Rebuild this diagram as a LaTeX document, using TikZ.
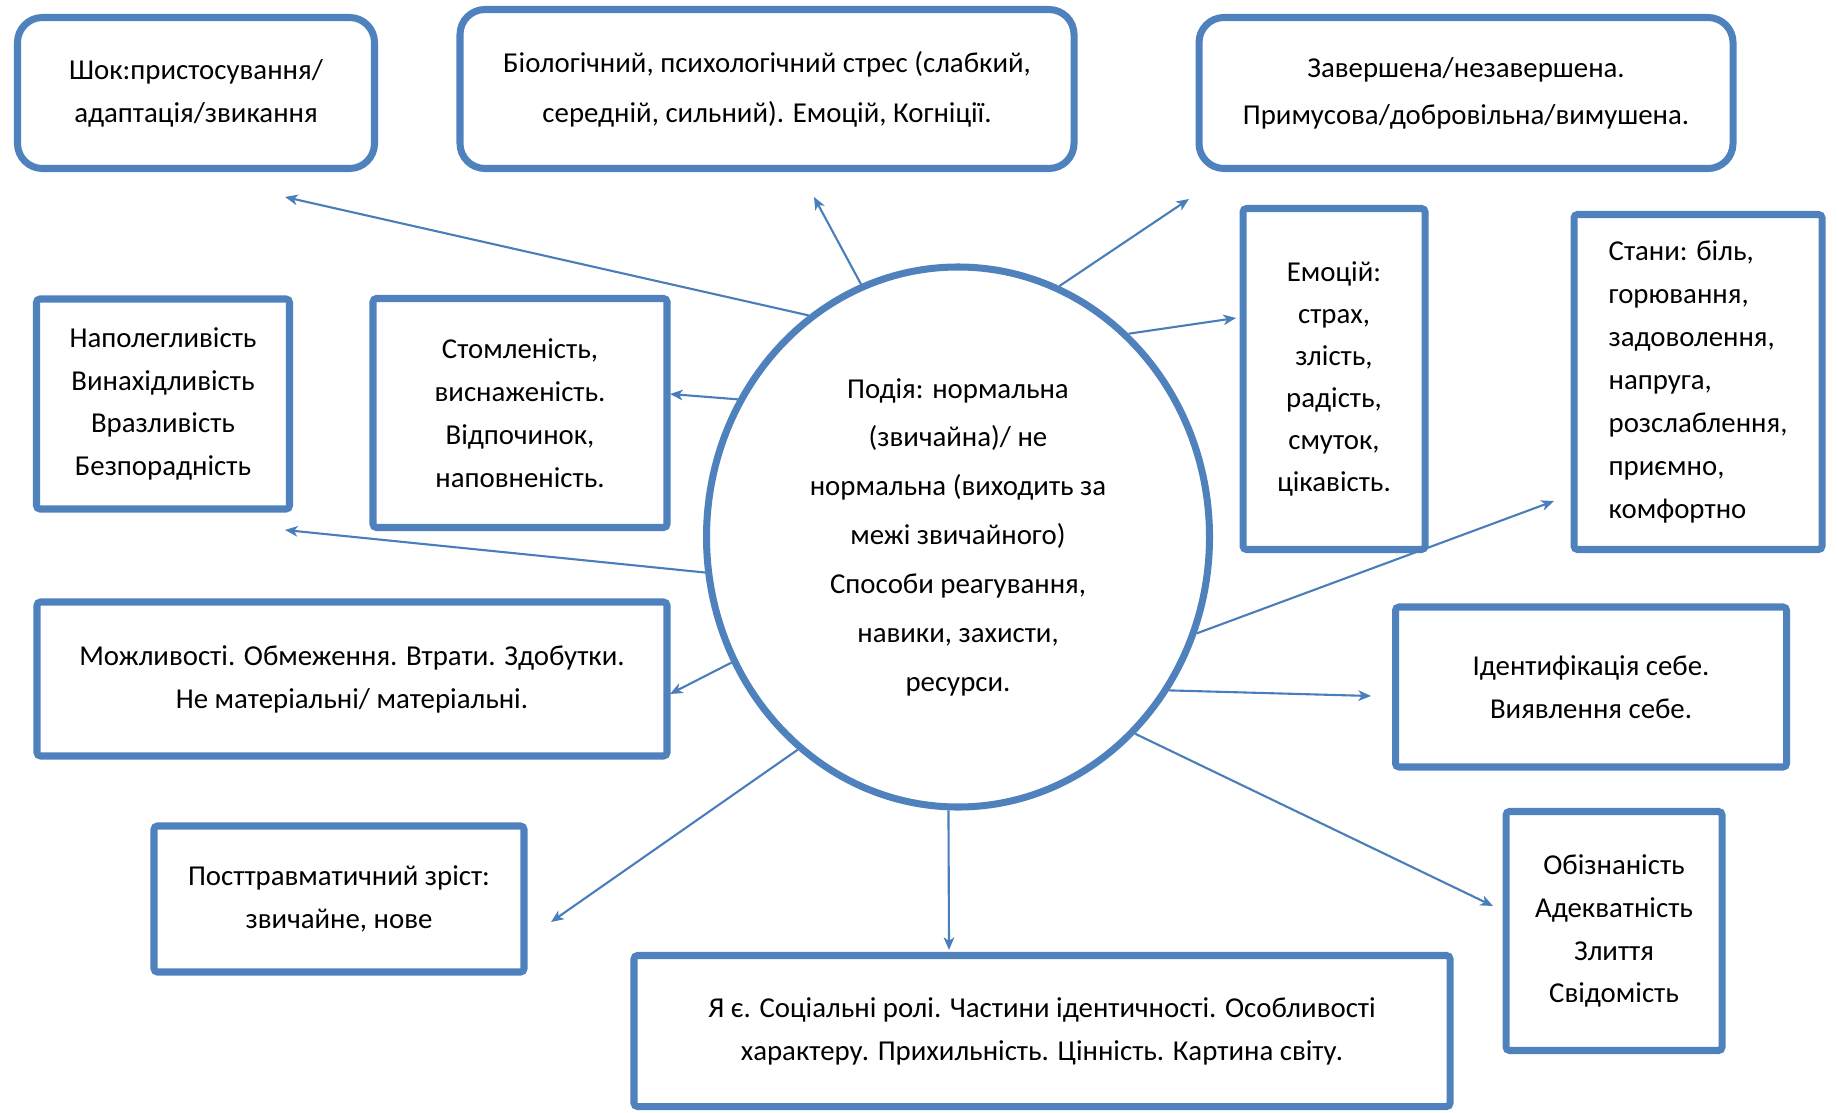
\documentclass[tikz,border=0pt]{standalone}
\usepackage{fontspec}
\setmainfont{Carlito}
\usetikzlibrary{shapes.geometric,arrows.meta}
\definecolor{boxblue}{HTML}{4F81BD}
\definecolor{linkblue}{HTML}{4A7EBB}

\begin{document}
\begin{tikzpicture}[
        rbox/.style = {draw=boxblue, line width=2pt, rounded corners=0.25cm, align=center, inner sep=0pt,
                font=\fontsize{8.2}{12.2}\selectfont}, % Скруглені блоки
        sbox/.style = {draw=boxblue, line width=2pt, rounded corners=1pt, align=center, inner sep=0pt,
                font=\fontsize{8.2}{12.2}\selectfont}, % Прямокутні блоки
        core/.style = {ellipse, draw=boxblue, line width=2pt, align=center, inner sep=0pt,
                font=\fontsize{8.2}{13.9}\selectfont}, % Центральна подія
        link/.style = {draw=linkblue, line width=0.6pt, -{Stealth[length=3.6pt, width=3pt, inset=1pt]}},
    ]
    \useasboundingbox (0,0) rectangle (18.37,-11.12);

    % Центр
    \node[core, minimum width=5.03cm, minimum height=5.40cm] (ev) at (9.58,-5.37)
        {Подія: нормальна\\ (звичайна)/ не\\ нормальна (виходить за\\ межі звичайного)\\ Способи реагування,\\ навики, захисти,\\ ресурси.};

    % Верхній ряд
    \node[rbox, minimum width=3.57cm, minimum height=1.51cm] (shok) at (1.96,-0.93)
        {Шок:пристосування/\\ адаптація/звикання};
    \node[rbox, minimum width=6.14cm, minimum height=1.59cm, font=\fontsize{8.2}{14.2}\selectfont] (bio) at (7.67,-0.89)
        {Біологічний, психологічний стрес (слабкий,\\ середній, сильний). Емоцій, Когніції.};
    \node[rbox, minimum width=5.34cm, minimum height=1.51cm, font=\fontsize{8.2}{13.4}\selectfont] (zav) at (14.66,-0.93)
        {Завершена/незавершена.\\ Примусова/добровільна/вимушена.};

    % Праворуч
    \node[sbox, minimum width=1.82cm, minimum height=3.41cm, font=\fontsize{8.2}{11.9}\selectfont] (emo) at (13.34,-3.79)
        {Емоцій:\\ страх,\\ злість,\\ радість,\\ смуток,\\ цікавість.};
    \node[sbox, minimum width=2.48cm, minimum height=3.35cm, align=left] (stany) at (16.98,-3.82)
        {Стани: біль,\\ горювання,\\ задоволення,\\ напруга,\\ розслаблення,\\ приємно,\\ комфортно};
    \node[sbox, minimum width=3.91cm, minimum height=1.60cm] (ident) at (15.91,-6.87)
        {Ідентифікація себе.\\ Виявлення себе.};
    \node[sbox, minimum width=2.16cm, minimum height=2.39cm] (obizn) at (16.14,-9.31)
        {Обізнаність\\ Адекватність\\ Злиття\\ Свідомість};

    % Ліворуч
    \node[sbox, minimum width=2.53cm, minimum height=2.10cm] (napol) at (1.63,-4.04)
        {Наполегливість\\ Винахідливість\\ Вразливість\\ Безпорадність};
    \node[sbox, minimum width=2.94cm, minimum height=2.29cm] (stoml) at (5.20,-4.13)
        {Стомленість,\\ виснаженість.\\ Відпочинок,\\ наповненість.};
    \node[sbox, minimum width=6.30cm, minimum height=1.54cm] (mozh) at (3.52,-6.79)
        {Можливості. Обмеження. Втрати. Здобутки.\\ Не матеріальні/ матеріальні.};
    \node[sbox, minimum width=3.70cm, minimum height=1.46cm] (post) at (3.39,-8.99)
        {Посттравматичний зріст:\\ звичайне, нове};

    % Низ
    \node[sbox, minimum width=8.16cm, minimum height=1.51cm] (yae) at (10.42,-10.31)
        {Я є. Соціальні ролі. Частини ідентичності. Особливості\\ характеру. Прихильність. Цінність. Картина світу.};

    % Кінці стрілок
    \coordinate (tshok) at (2.85,-1.97);
    \coordinate (tbio) at (8.14,-1.97);
    \coordinate (tzav) at (11.89,-1.99);
    \coordinate (temo) at (12.36,-3.18);
    \coordinate (tstoml) at (6.70,-3.94);
    \coordinate (tnapol) at (2.85,-5.30);
    \coordinate (tmozh) at (6.70,-6.94);
    \coordinate (tstany) at (15.54,-5.01);
    \coordinate (tident) at (13.71,-6.96);
    \coordinate (tobizn) at (14.93,-9.06);
    \coordinate (tyae) at (9.49,-9.50);
    \coordinate (tpost) at (5.51,-9.22);

    % Стрілки
    \draw[link] (ev.124.5) -- (tshok);
    \draw[link] (ev.111.9) -- (tbio);
    \draw[link] (ev.68) -- (tzav);
    \draw[link] (ev.50.5) -- (temo);
    \draw[link] (ev.148.7) -- (tstoml);
    \draw[link] (ev.188) -- (tnapol);
    \draw[link] (ev.209.1) -- (tmozh);
    \draw[link] (ev.338.1) -- (tstany);
    \draw[link] (ev.324.5) -- (tident);
    \draw[link] (ev.312.5) -- (tobizn);
    \draw[link] (ev.268.2) -- (tyae);
    \draw[link] (ev.233.1) -- (tpost);
\end{tikzpicture}
\end{document}
